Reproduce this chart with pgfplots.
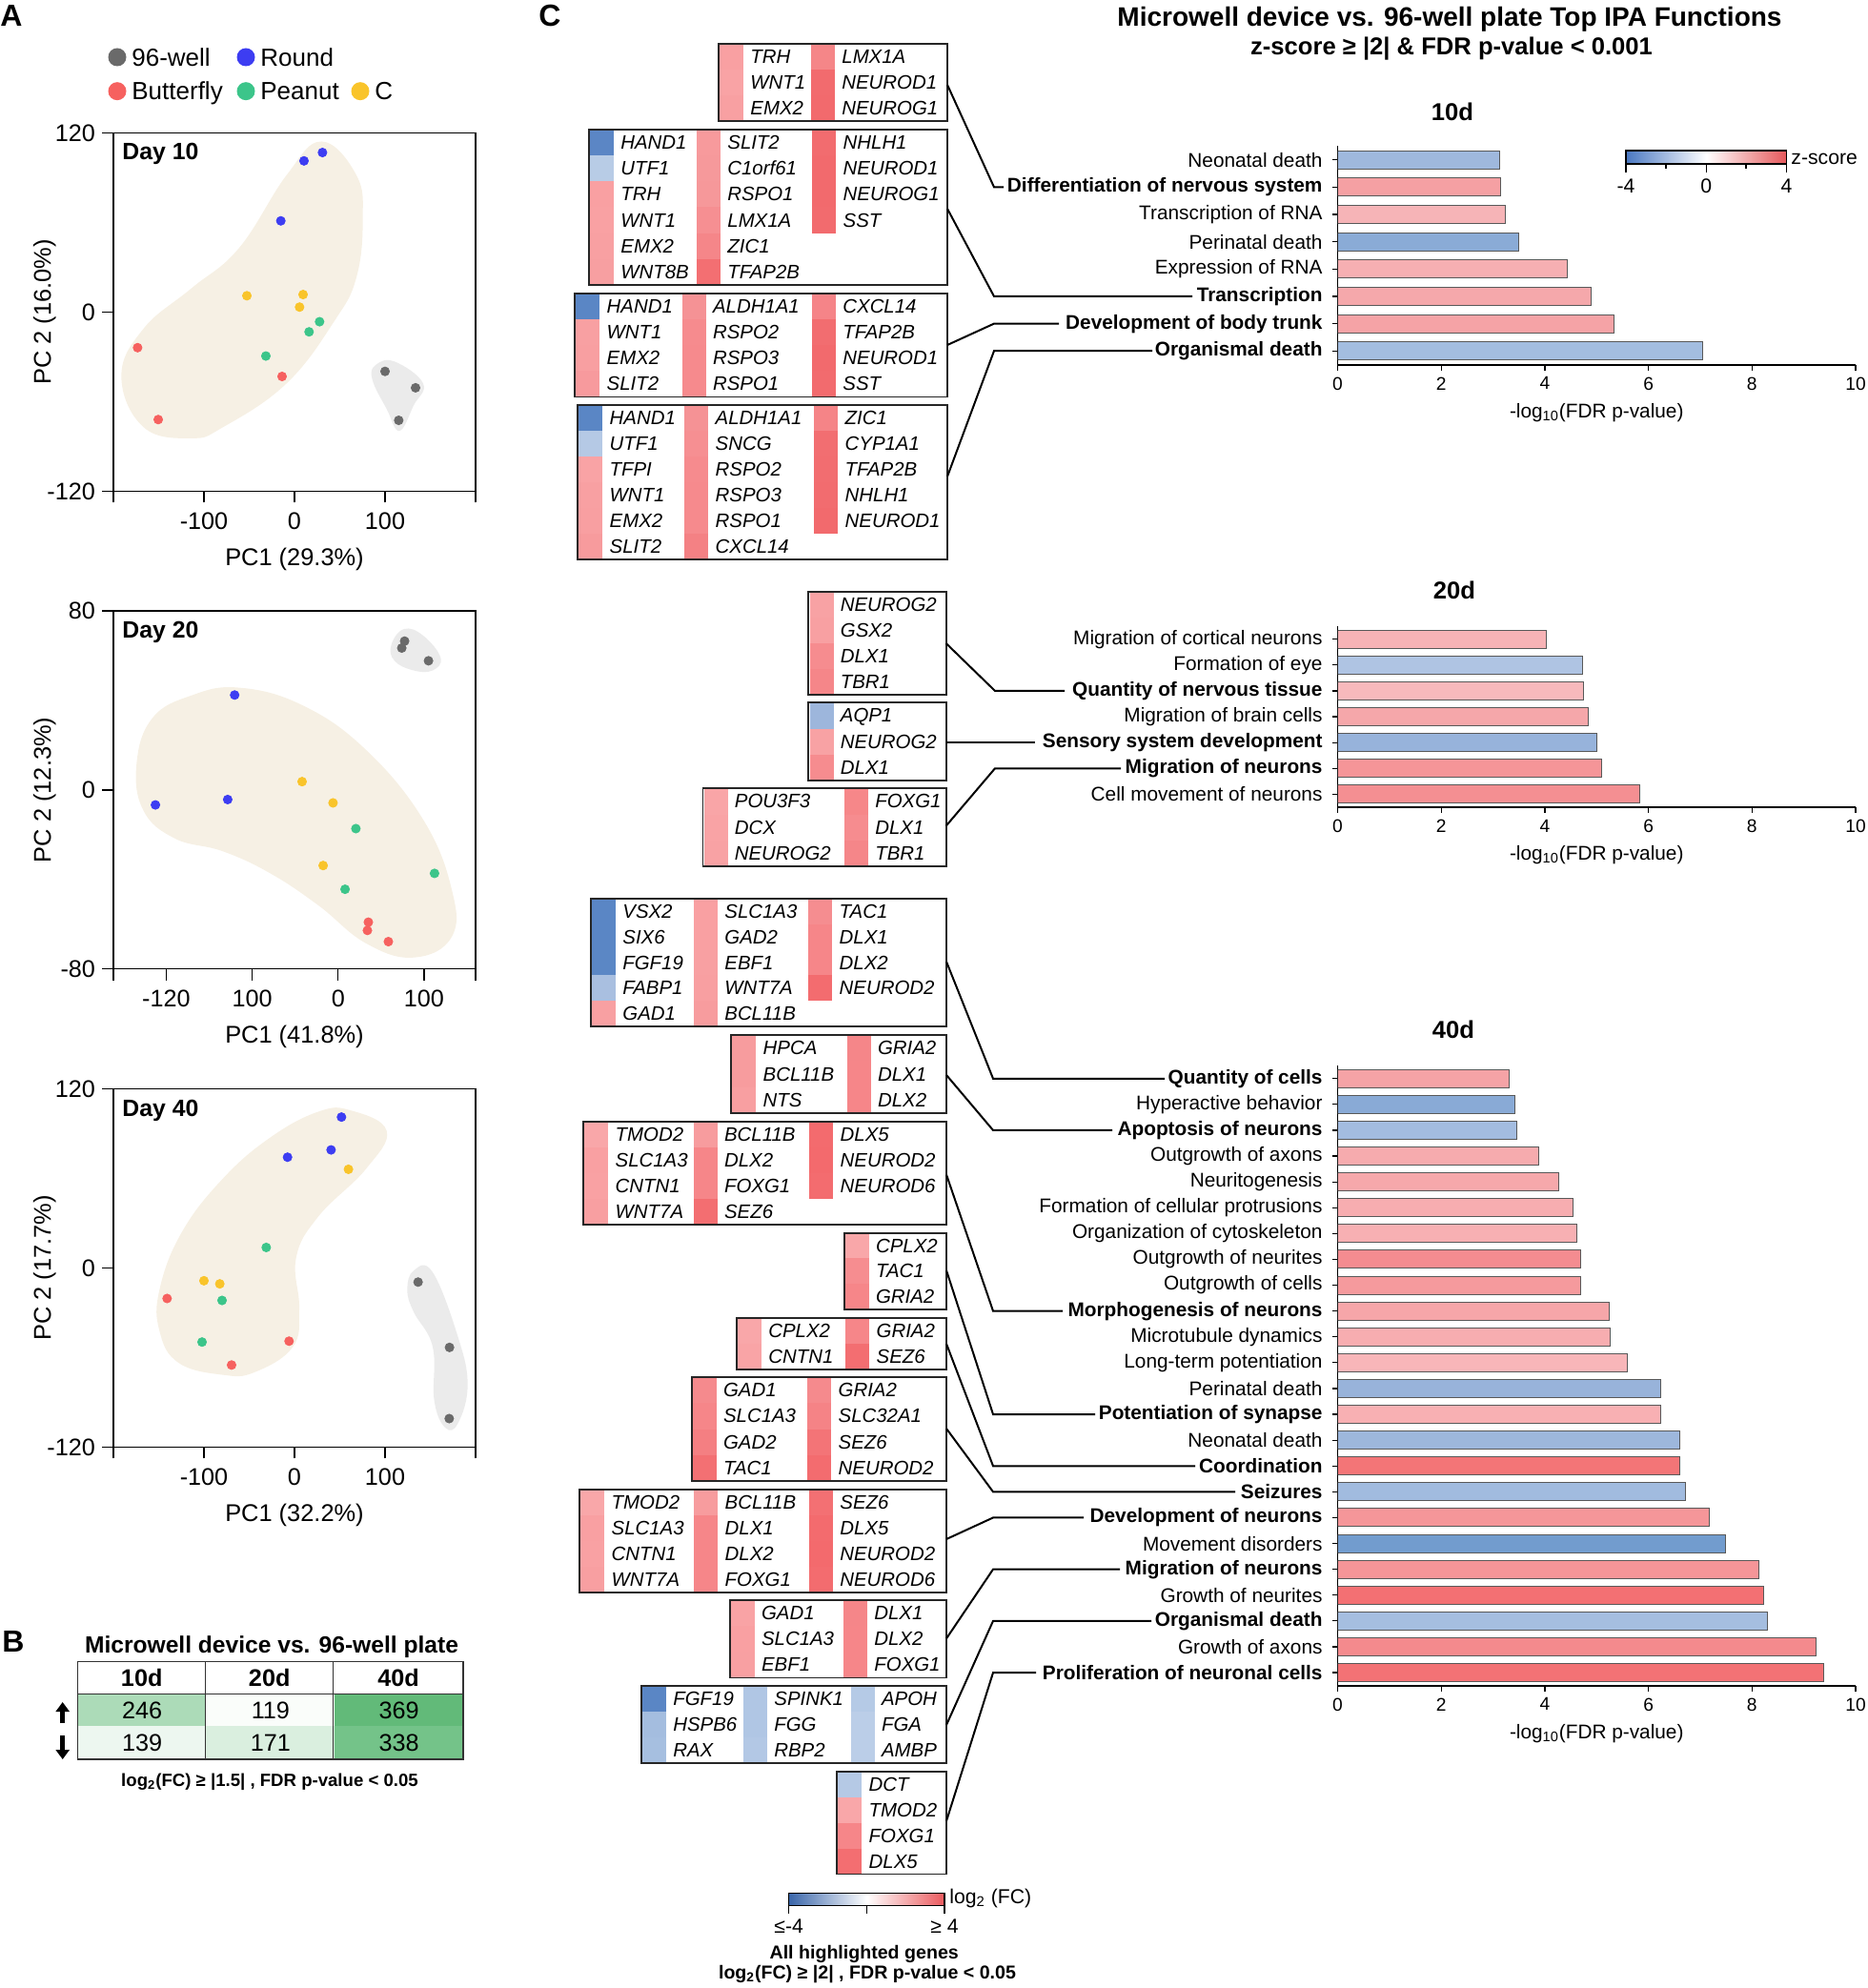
\documentclass[border=0pt]{standalone}
\usepackage{pgfplots}
\pgfplotsset{compat=1.18}
\usepackage{fontspec}
\setmainfont{Liberation Sans}
\usetikzlibrary{arrows.meta}

\newcommand\fs[1]{\fontsize{#1}{#1}\selectfont}
\newcommand\gene{\fs{10.2}\itshape}

% scatter colours
\definecolor{pgray}{HTML}{6A6A6A}
\definecolor{pblue}{HTML}{3D3DF2}
\definecolor{pred}{HTML}{F6615F}
\definecolor{pgreen}{HTML}{3CC58A}
\definecolor{pyellow}{HTML}{F9C42B}
\definecolor{blobb}{HTML}{F6F0E4}
\definecolor{blobg}{HTML}{EBEBEB}
% colourbars
\definecolor{zb}{HTML}{4A78C2}
\definecolor{zr}{HTML}{E5585B}
\definecolor{lb}{HTML}{3A66AA}
\definecolor{lr}{HTML}{EB5A5E}
% 10d bars
\definecolor{t1}{HTML}{9FB8DD}\definecolor{t2}{HTML}{F5A0A3}\definecolor{t3}{HTML}{F6B4B7}
\definecolor{t4}{HTML}{8AABD6}\definecolor{t5}{HTML}{F6AFB2}\definecolor{t6}{HTML}{F5A8AB}
\definecolor{t7}{HTML}{F5A3A6}\definecolor{t8}{HTML}{A3BDE0}
% 20d bars
\definecolor{w1}{HTML}{F7B3B6}\definecolor{w2}{HTML}{AFC4E3}\definecolor{w3}{HTML}{F7B9BC}
\definecolor{w4}{HTML}{F5A7AA}\definecolor{w5}{HTML}{97B3DB}\definecolor{w6}{HTML}{F59598}
\definecolor{w7}{HTML}{F48F92}
% 40d bars
\definecolor{f1}{HTML}{F5A3A6}\definecolor{f2}{HTML}{89AAD6}\definecolor{f3}{HTML}{A3BCE0}
\definecolor{f4}{HTML}{F6ABAE}\definecolor{f5}{HTML}{F6A8AB}\definecolor{f6}{HTML}{F7ADB0}
\definecolor{f7}{HTML}{F7B0B3}\definecolor{f8}{HTML}{F48C90}\definecolor{f9}{HTML}{F59A9D}
\definecolor{f10}{HTML}{F6A6A9}\definecolor{f11}{HTML}{F7ADB0}\definecolor{f12}{HTML}{F8B6B9}
\definecolor{f13}{HTML}{98B3DA}\definecolor{f14}{HTML}{F8B0B3}\definecolor{f15}{HTML}{9DB7DC}
\definecolor{f16}{HTML}{F37577}\definecolor{f17}{HTML}{A1BBDF}\definecolor{f18}{HTML}{F59699}
\definecolor{f19}{HTML}{729CCE}\definecolor{f20}{HTML}{F59598}\definecolor{f21}{HTML}{F37073}
\definecolor{f22}{HTML}{A5BEE0}\definecolor{f23}{HTML}{F48A8D}\definecolor{f24}{HTML}{F37275}

% gene boxes (scope units = pixels of the reference)
\newcommand\gset[5]{\gdef\bxa{#1}\gdef\bya{#2}\gdef\bxb{#3}\gdef\byb{#4}%
  \pgfmathsetmacro\tmpbh{(#4-#2)/#5}\global\let\bh\tmpbh}
\newcommand\gc[4]{\definecolor{gtmp}{HTML}{#3}%
  \fill[gtmp] (#1,{\bya+(#2-1)*\bh}) rectangle ({#1+25},{\bya+#2*\bh});
  \node[anchor=base west, inner sep=0pt, font=\gene] at ({#1+32},{\bya+(#2-0.5)*\bh+7}) {#4};}
\newcommand\gend{\draw[line width=0.9pt, black!85] (\bxa,\bya) rectangle (\bxb,\byb);}

\newcommand\hb[3]{\addplot[fill=#3, draw=black!65, line width=0.5pt] coordinates {(#1,#2)};}

\pgfplotsset{
  pca/.style={anchor=north west, scale only axis, width=190pt, height=187.85pt,
    tick align=outside, tick pos=left, major tick length=6pt,
    axis line style={line width=0.7pt}, every tick/.style={black, line width=0.7pt},
    /pgf/number format/assume math mode=true,
    tick label style={font=\fs{12.6}}, label style={font=\fs{12.7}},
    xticklabel style={yshift=-1.5pt},
    xlabel style={at={(axis description cs:0.5,-0.19)}, anchor=center},
    ylabel style={at={(axis description cs:-0.19,0.5)}, anchor=center}},
  pts/.style={only marks, mark=*, mark size=2.3pt},
  blob/.style={draw=none, smooth cycle, tension=0.7},
  ipa/.style={anchor=north west, scale only axis, width=271.75pt,
    xbar, bar width=9.5pt, bar shift=0pt, xmin=0, xmax=10, ymin=0.5, y dir=reverse,
    xtick={0,2,...,10}, axis x line*=bottom, axis y line*=left, axis line style={-},
    x axis line style={line width=1.1pt}, y axis line style={line width=0.7pt},
    tick align=outside, major tick length=3pt, every tick/.style={black, line width=0.6pt},
    /pgf/number format/assume math mode=true,
    yticklabel style={font=\fs{10.4}, inner sep=0pt, xshift=-4.8pt},
    xticklabel style={font=\fs{9.6}},
    xlabel={-log\textsubscript{10}(FDR p-value)},
    xlabel style={font=\fs{10.4}, at={(axis description cs:0.5,0)}, anchor=base, yshift=-27.8pt}},
}

\begin{document}
\begin{tikzpicture}
% ---------------- Panel A ----------------
\begin{axis}[pca, at={(59.5pt,-69.85pt)},
  xmin=-200, xmax=200, ymin=-120, ymax=120,
  xtick={-200,-100,0,100,200}, xticklabels={,-100,0,100,},
  ytick={-120,0,120}, yticklabels={-120,0,120},
  xlabel={PC1 (29.3\%)}, ylabel={PC 2 (16.0\%)}]
\addplot[blob, fill=blobb] coordinates {(29.8,114.4) (68.4,91.8) (75.4,62.5) (68.4,23.3) (43.9,-6.1) (-8.8,-47.8) (-78.9,-77.1) (-114,-84.5) (-166.7,-77.1) (-191.2,-42.9) (-166.7,-11) (-114,15.9) (-61.4,42.9) (-8.8,91.8)};
\addplot[blob, fill=blobg] coordinates {(89.5,-35.5) (110.5,-33.1) (142.1,-47.8) (131.6,-62.5) (115.8,-79.6) (101.8,-64.9) (86,-45.3)};
\addplot[pts, mark options={fill=pblue, draw=pblue}] coordinates {(30.9,107) (10.5,101.4) (-15.1,61.2)};
\addplot[pts, mark options={fill=pyellow, draw=pyellow}] coordinates {(-52.6,11) (9.5,11.8) (5.6,3.4)};
\addplot[pts, mark options={fill=pgreen, draw=pgreen}] coordinates {(27.7,-6.4) (16.1,-13.2) (-31.6,-29.4)};
\addplot[pts, mark options={fill=pred, draw=pred}] coordinates {(-173.3,-23.8) (-13.7,-43.1) (-150.5,-72)};
\addplot[pts, mark options={fill=pgray, draw=pgray}] coordinates {(100,-39.7) (133.7,-50.7) (115.1,-72.5)};
\end{axis}

\begin{axis}[pca, at={(59.5pt,-320.5pt)},
  xmin=-261.5, xmax=160, ymin=-80, ymax=80,
  xtick={-261.5,-200,-100,0,100,160}, xticklabels={,-120,100,0,100,},
  ytick={-80,0,80}, yticklabels={-80,0,80},
  xlabel={PC1 (41.8\%)}, ylabel={PC 2 (12.3\%)}]
\addplot[blob, fill=blobb] coordinates {(-115.9,45.7) (-41.9,37.9) (32.2,18) (98.9,-13.2) (132.2,-44.4) (132.2,-65.7) (87.8,-74.9) (32.2,-68.5) (-23.3,-51.5) (-78.9,-37.3) (-134.4,-27.4) (-190,-21.7) (-227,-8.9) (-234.4,12.3) (-215.9,32.2) (-171.5,42.1)};
\addplot[blob, fill=blobg] coordinates {(61.9,64.8) (76.7,71.9) (98.9,69) (119.3,59.1) (110,53.4) (87.8,53.4) (65.6,57.7)};
\addplot[pts, mark options={fill=pgray, draw=pgray}] coordinates {(77.4,66.5) (74.1,63.4) (105.2,57.7)};
\addplot[pts, mark options={fill=pblue, draw=pblue}] coordinates {(-120.4,42.4) (-212.6,-6.7) (-128.5,-4.3)};
\addplot[pts, mark options={fill=pyellow, draw=pyellow}] coordinates {(-41.9,3.7) (-5.9,-5.8) (-17.4,-33.8)};
\addplot[pts, mark options={fill=pgreen, draw=pgreen}] coordinates {(20.7,-17.3) (112.2,-37.3) (8.1,-44.4)};
\addplot[pts, mark options={fill=pred, draw=pred}] coordinates {(35.2,-59.1) (34.1,-62.8) (58.5,-67.8)};
\end{axis}

\begin{axis}[pca, at={(59.5pt,-571.35pt)},
  xmin=-200, xmax=200, ymin=-120, ymax=120,
  xtick={-200,-100,0,100,200}, xticklabels={,-100,0,100,},
  ytick={-120,0,120}, yticklabels={-120,0,120},
  xlabel={PC1 (32.2\%)}, ylabel={PC 2 (17.7\%)}]
\addplot[blob, fill=blobb] coordinates {(61.4,105.8) (101.8,92) (78.9,66.4) (26.3,34.5) (1.8,6.8) (5.3,-27.3) (-1.8,-52.8) (-43.9,-69.8) (-78.9,-71.6) (-128.1,-63.5) (-149.1,-42.2) (-149.1,-14.5) (-124.6,23.9) (-78.9,60.1) (-26.3,87.7) (26.3,104.8)};
\addplot[blob, fill=blobg] coordinates {(131.6,-1.7) (152.6,-2.8) (180.7,-46.4) (191.2,-78.4) (180.7,-103.9) (166.7,-107.1) (154.4,-89) (152.6,-52.8) (131.6,-29.4) (124.6,-14.5)};
\addplot[pts, mark options={fill=pblue, draw=pblue}] coordinates {(51.9,101.2) (40.4,79.2) (-7.7,74.3)};
\addplot[pts, mark options={fill=pyellow, draw=pyellow}] coordinates {(59.6,66.2) (-100,-8.5) (-82.5,-10.6)};
\addplot[pts, mark options={fill=pgreen, draw=pgreen}] coordinates {(-31.2,13.8) (-80,-21.7) (-102.1,-49.6)};
\addplot[pts, mark options={fill=pred, draw=pred}] coordinates {(-140.7,-20.4) (-6,-49) (-69.5,-65)};
\addplot[pts, mark options={fill=pgray, draw=pgray}] coordinates {(136.5,-9.4) (171.2,-53.2) (170.9,-100.9)};
\end{axis}

% ---------------- Panel B ----------------
\begin{axis}[anchor=north west, at={(40.85pt,-888.85pt)}, scale only axis,
  width=202.15pt, height=34.15pt, hide axis,
  xmin=-0.5, xmax=2.5, ymin=-0.5, ymax=1.5, y dir=reverse,
  /pgf/number format/assume math mode=true,
  colormap={grn}{rgb255(0cm)=(255,255,255) rgb255(1cm)=(92,184,116)},
  point meta min=110, point meta max=380]
\addplot[matrix plot*, mesh/cols=3, point meta=explicit,
  nodes near coords, nodes near coords align=center,
  every node near coord/.append style={font=\fs{12.6}, anchor=center, text=black}]
  table[meta=c] {
x y c
0 0 246
1 0 119
2 0 369
0 1 139
1 1 171
2 1 338
};
\end{axis}

% ---------------- Panel C bar charts ----------------
\begin{axis}[ipa, at={(701.75pt,-76.7pt)}, height=114.6pt, ymax=8.5, ytick={1,...,8},
  yticklabels={Neonatal death,\textbf{Differentiation of nervous system},Transcription of RNA,Perinatal death,Expression of RNA,\textbf{Transcription},\textbf{Development of body trunk},\textbf{Organismal death}}]
\hb{3.12}{1}{t1}\hb{3.15}{2}{t2}\hb{3.23}{3}{t3}\hb{3.50}{4}{t4}
\hb{4.44}{5}{t5}\hb{4.90}{6}{t6}\hb{5.33}{7}{t7}\hb{7.04}{8}{t8}
\end{axis}

\begin{axis}[ipa, at={(701.75pt,-328.6pt)}, height=94.85pt, ymax=7.5, ytick={1,...,7},
  yticklabels={Migration of cortical neurons,Formation of eye,\textbf{Quantity of nervous tissue},Migration of brain cells,\textbf{Sensory system development},\textbf{Migration of neurons},Cell movement of neurons}]
\hb{4.03}{1}{w1}\hb{4.72}{2}{w2}\hb{4.75}{3}{w3}\hb{4.84}{4}{w4}
\hb{5.00}{5}{w5}\hb{5.10}{6}{w6}\hb{5.84}{7}{w7}
\end{axis}

\begin{axis}[ipa, at={(701.75pt,-559.1pt)}, height=325.2pt, ymax=24.5, ytick={1,...,24},
  yticklabels={\textbf{Quantity of cells},Hyperactive behavior,\textbf{Apoptosis of neurons},Outgrowth of axons,Neuritogenesis,Formation of cellular protrusions,Organization of cytoskeleton,Outgrowth of neurites,Outgrowth of cells,\textbf{Morphogenesis of neurons},Microtubule dynamics,Long-term potentiation,Perinatal death,\textbf{Potentiation of synapse},Neonatal death,\textbf{Coordination},\textbf{Seizures},\textbf{Development of neurons},Movement disorders,\textbf{Migration of neurons},Growth of neurites,\textbf{Organismal death},Growth of axons,\textbf{Proliferation of neuronal cells}}]
\hb{3.31}{1}{f1}\hb{3.43}{2}{f2}\hb{3.46}{3}{f3}\hb{3.89}{4}{f4}
\hb{4.27}{5}{f5}\hb{4.54}{6}{f6}\hb{4.62}{7}{f7}\hb{4.69}{8}{f8}
\hb{4.69}{9}{f9}\hb{5.24}{10}{f10}\hb{5.27}{11}{f11}\hb{5.59}{12}{f12}
\hb{6.24}{13}{f13}\hb{6.24}{14}{f14}\hb{6.60}{15}{f15}\hb{6.60}{16}{f16}
\hb{6.71}{17}{f17}\hb{7.18}{18}{f18}\hb{7.48}{19}{f19}\hb{8.14}{20}{f20}
\hb{8.22}{21}{f21}\hb{8.30}{22}{f22}\hb{9.23}{23}{f23}\hb{9.38}{24}{f24}
\end{axis}

% ---------------- annotations ----------------
\begin{scope}[x=0.5pt,y=-0.5pt]
% panel letters
\node[anchor=north west, inner sep=0pt, font=\fs{16}\bfseries] at (0,5) {A};
\node[anchor=north west, inner sep=0pt, font=\fs{16}\bfseries] at (2,1711) {B};
\node[anchor=north west, inner sep=0pt, font=\fs{16}\bfseries] at (565,5) {C};

% legend A
\foreach \cx/\cy/\cc/\lab in {123/60/pgray/96-well, 258/60/pblue/Round, 123/95.7/pred/Butterfly, 258/95.7/pgreen/Peanut, 378/95.7/pyellow/C}{
  \fill[\cc] (\cx,\cy) circle (9.5);
  \node[anchor=base west, inner sep=0pt, font=\fs{13}] at (\cx+15,\cy+9.3) {\lab};
}
\node[anchor=base west, inner sep=0pt, font=\fs{12.4}\bfseries] at (128,167.5) {Day 10};
\node[anchor=base west, inner sep=0pt, font=\fs{12.4}\bfseries] at (128,669.5) {Day 20};
\node[anchor=base west, inner sep=0pt, font=\fs{12.4}\bfseries] at (128,1171) {Day 40};

% panel B table frame
\node[font=\fs{12.3}\bfseries] at (285,1728) {Microwell device vs. 96-well plate};
\foreach \hx/\hd in {148.7/10d, 282.7/20d, 418/40d}{
  \node[font=\fs{12.6}\bfseries] at (\hx,1760.5) {\hd};}
\draw[line width=0.7pt, black!80] (81.7,1743.3) rectangle (486,1846);
\draw[line width=0.7pt, black!80] (81.7,1777.7) -- (486,1777.7);
\draw[line width=0.7pt, black!80] (215.7,1743.3) -- (215.7,1846);
\draw[line width=0.7pt, black!80] (349.7,1743.3) -- (349.7,1846);
\draw[line width=2.4pt, -{Triangle[length=5pt,width=7pt]}] (65.7,1808) -- (65.7,1786);
\draw[line width=2.4pt, -{Triangle[length=5pt,width=7pt]}] (65.7,1821) -- (65.7,1846);
\node[font=\fs{9.3}\bfseries] at (283,1870) {log\textsubscript{2}(FC) ≥ |1.5| , FDR p-value < 0.05};

% titles C
\node[font=\fs{14}\bfseries] at (1521,20) {Microwell device vs. 96-well plate Top IPA Functions};
\node[font=\fs{12.8}\bfseries] at (1523,51) {z-score ≥ |2| \& FDR p-value < 0.001};
\node[font=\fs{12.8}\bfseries] at (1524,117) {10d};
\node[font=\fs{12.8}\bfseries] at (1526,619) {20d};
\node[font=\fs{12.8}\bfseries] at (1525,1080) {40d};

% z-score colourbar
\shade[left color=zb, right color=zr, middle color=white] (1706,158) rectangle (1874.6,172);
\draw[line width=0.6pt] (1706,158) rectangle (1874.6,172);
\foreach \tx in {1706,1790.3,1874.6}{\draw[line width=0.6pt] (\tx,172) -- (\tx,181);}
\foreach \tx in {1748,1832}{\draw[line width=0.6pt] (\tx,172) -- (\tx,177);}
\node[font=\fs{10.6}] at (1706,195) {-4};
\node[font=\fs{10.6}] at (1790.3,195) {0};
\node[font=\fs{10.6}] at (1874.6,195) {4};
\node[anchor=west, inner sep=0pt, font=\fs{10.6}] at (1879,167) {z-score};

% log2FC colourbar
\shade[left color=lb, right color=lr, middle color=white] (827.7,1986.7) rectangle (991,1999.6);
\draw[line width=0.6pt] (827.7,1986.7) rectangle (991,1999.6);
\foreach \tx in {827.7,909.3,991}{\draw[line width=0.6pt] (\tx,1999.6) -- (\tx,2008);}
\node[font=\fs{10.6}] at (827.7,2021.5) {≤-4};
\node[font=\fs{10.6}] at (991,2021.5) {≥ 4};
\node[anchor=west, inner sep=0pt, font=\fs{10.6}] at (996,1992) {log\textsubscript{2} (FC)};
\node[font=\fs{9.8}\bfseries] at (906.7,2050) {All highlighted genes};
\node[font=\fs{9.8}\bfseries] at (910,2072) {log\textsubscript{2}(FC) ≥ |2| , FDR p-value < 0.05};

% ---- 10d gene boxes ----
\gset{754}{46}{994}{127}{3}
\gc{755}{1}{F9A0A2}{TRH}\gc{755}{2}{F9A3A5}{WNT1}\gc{755}{3}{F8A0A2}{EMX2}
\gc{851}{1}{F58688}{LMX1A}\gc{851}{2}{F26B6E}{NEUROD1}\gc{851}{3}{F26A6D}{NEUROG1}
\gend
\gset{617.7}{136}{994}{299}{6}
\gc{619}{1}{5B86C5}{HAND1}\gc{619}{2}{B8CCE6}{UTF1}\gc{619}{3}{F9A0A2}{TRH}\gc{619}{4}{F9A1A3}{WNT1}\gc{619}{5}{F8A0A2}{EMX2}\gc{619}{6}{F79FA1}{WNT8B}
\gc{731}{1}{F79A9C}{SLIT2}\gc{731}{2}{F6999B}{C1orf61}\gc{731}{3}{F6989A}{RSPO1}\gc{731}{4}{F68F92}{LMX1A}\gc{731}{5}{F58689}{ZIC1}\gc{731}{6}{F36F72}{TFAP2B}
\gc{852.3}{1}{F26C6F}{NHLH1}\gc{852.3}{2}{F26A6D}{NEUROD1}\gc{852.3}{3}{F26A6D}{NEUROG1}\gc{852.3}{4}{F26B6E}{SST}
\gend
\gset{603.3}{307.9}{994}{416.4}{4}
\gc{604.3}{1}{5A86C5}{HAND1}\gc{604.3}{2}{F8A0A2}{WNT1}\gc{604.3}{3}{F89FA1}{EMX2}\gc{604.3}{4}{F79A9D}{SLIT2}
\gc{715.7}{1}{F59295}{ALDH1A1}\gc{715.7}{2}{F68B8E}{RSPO2}\gc{715.7}{3}{F68A8D}{RSPO3}\gc{715.7}{4}{F68A8D}{RSPO1}
\gc{852}{1}{F58488}{CXCL14}\gc{852}{2}{F26D70}{TFAP2B}\gc{852}{3}{F26A6D}{NEUROD1}\gc{852}{4}{F26B6E}{SST}
\gend
\gset{606}{424.6}{994}{587}{6}
\gc{607.3}{1}{5A86C5}{HAND1}\gc{607.3}{2}{B5C9E5}{UTF1}\gc{607.3}{3}{F9A3A5}{TFPI}\gc{607.3}{4}{F8A0A2}{WNT1}\gc{607.3}{5}{F89FA1}{EMX2}\gc{607.3}{6}{F79B9D}{SLIT2}
\gc{718.3}{1}{F59295}{ALDH1A1}\gc{718.3}{2}{F68F92}{SNCG}\gc{718.3}{3}{F68B8E}{RSPO2}\gc{718.3}{4}{F68A8D}{RSPO3}\gc{718.3}{5}{F68A8D}{RSPO1}\gc{718.3}{6}{F48184}{CXCL14}
\gc{854.3}{1}{F58487}{ZIC1}\gc{854.3}{2}{F26E71}{CYP1A1}\gc{854.3}{3}{F26D70}{TFAP2B}\gc{854.3}{4}{F26C6F}{NHLH1}\gc{854.3}{5}{F26A6D}{NEUROD1}
\gend
\draw[line width=1pt] (994,89) -- (1043,196.4) -- (1053,196.4);
\draw[line width=1pt] (994,219) -- (1043,311) -- (1251,311);
\draw[line width=1pt] (994,362) -- (1043,339.6) -- (1111,339.6);
\draw[line width=1pt] (994,500) -- (1043,368.2) -- (1209,368.2);

% ---- 20d gene boxes ----
\gset{848}{620.7}{992.6}{729.3}{4}
\gc{849.5}{1}{F8A2A4}{NEUROG2}\gc{849.5}{2}{F8A0A2}{GSX2}\gc{849.5}{3}{F68C8F}{DLX1}\gc{849.5}{4}{F58689}{TBR1}
\gend
\gset{848}{737.3}{992.6}{819.3}{3}
\gc{849.5}{1}{9DB6DC}{AQP1}\gc{849.5}{2}{F8A2A4}{NEUROG2}\gc{849.5}{3}{F68C8F}{DLX1}
\gend
\gset{737.4}{827.3}{992.6}{909.3}{3}
\gc{738.5}{1}{F9A5A7}{POU3F3}\gc{738.5}{2}{F9A3A5}{DCX}\gc{738.5}{3}{F8A2A4}{NEUROG2}
\gc{886}{1}{F68789}{FOXG1}\gc{886}{2}{F68C8F}{DLX1}\gc{886}{3}{F58689}{TBR1}
\gend
\draw[line width=1pt] (992.6,675) -- (1044,724.95) -- (1117,724.95);
\draw[line width=1pt] (992.6,779.15) -- (1086,779.15);
\draw[line width=1pt] (992.6,866.7) -- (1044,806.25) -- (1176,806.25);

% ---- 40d gene boxes ----
\gset{620}{943}{993}{1077}{5}
\gc{621}{1}{5A86C5}{VSX2}\gc{621}{2}{5A86C5}{SIX6}\gc{621}{3}{5B87C5}{FGF19}\gc{621}{4}{A9BFE0}{FABP1}\gc{621}{5}{F8A0A2}{GAD1}
\gc{728}{1}{F9A0A2}{SLC1A3}\gc{728}{2}{F9A0A2}{GAD2}\gc{728}{3}{F8A0A2}{EBF1}\gc{728}{4}{F89FA1}{WNT7A}\gc{728}{5}{F79C9E}{BCL11B}
\gc{848.3}{1}{F58D90}{TAC1}\gc{848.3}{2}{F68689}{DLX1}\gc{848.3}{3}{F68689}{DLX2}\gc{848.3}{4}{F36C6F}{NEUROD2}
\gend
\gset{767.3}{1086.2}{993}{1168}{3}
\gc{768.3}{1}{F79C9E}{HPCA}\gc{768.3}{2}{F79C9E}{BCL11B}\gc{768.3}{3}{F89FA1}{NTS}
\gc{888.7}{1}{F58689}{GRIA2}\gc{888.7}{2}{F68689}{DLX1}\gc{888.7}{3}{F68689}{DLX2}
\gend
\gset{612}{1177}{993}{1285}{4}
\gc{613.3}{1}{F9A7A9}{TMOD2}\gc{613.3}{2}{F9A0A2}{SLC1A3}\gc{613.3}{3}{F9A1A3}{CNTN1}\gc{613.3}{4}{F89FA1}{WNT7A}
\gc{727.7}{1}{F79C9E}{BCL11B}\gc{727.7}{2}{F68689}{DLX2}\gc{727.7}{3}{F68689}{FOXG1}\gc{727.7}{4}{F36E71}{SEZ6}
\gc{849.3}{1}{F36B6E}{DLX5}\gc{849.3}{2}{F36A6D}{NEUROD2}\gc{849.3}{3}{F36C6F}{NEUROD6}
\gend
\gset{885.7}{1293.8}{993}{1373.7}{3}
\gc{886.7}{1}{F9A7A9}{CPLX2}\gc{886.7}{2}{F68D90}{TAC1}\gc{886.7}{3}{F68689}{GRIA2}
\gend
\gset{772.7}{1382.7}{993}{1437}{2}
\gc{774}{1}{F9A7A9}{CPLX2}\gc{774}{2}{F9A4A6}{CNTN1}
\gc{887.3}{1}{F68689}{GRIA2}\gc{887.3}{2}{F36E71}{SEZ6}
\gend
\gset{726}{1445}{993}{1554}{4}
\gc{726.7}{1}{F58A8D}{GAD1}\gc{726.7}{2}{F68689}{SLC1A3}\gc{726.7}{3}{F47F82}{GAD2}\gc{726.7}{4}{F37073}{TAC1}
\gc{847.3}{1}{F58A8D}{GRIA2}\gc{847.3}{2}{F58386}{SLC32A1}\gc{847.3}{3}{F37477}{SEZ6}\gc{847.3}{4}{F36C6F}{NEUROD2}
\gend
\gset{608.3}{1562.6}{993}{1670.6}{4}
\gc{609.3}{1}{F9A7A9}{TMOD2}\gc{609.3}{2}{F9A0A2}{SLC1A3}\gc{609.3}{3}{F9A1A3}{CNTN1}\gc{609.3}{4}{F89FA1}{WNT7A}
\gc{728.3}{1}{F79C9E}{BCL11B}\gc{728.3}{2}{F68689}{DLX1}\gc{728.3}{3}{F68689}{DLX2}\gc{728.3}{4}{F68689}{FOXG1}
\gc{849}{1}{F37073}{SEZ6}\gc{849}{2}{F36B6E}{DLX5}\gc{849}{3}{F36A6D}{NEUROD2}\gc{849}{4}{F36C6F}{NEUROD6}
\gend
\gset{765.7}{1679.3}{993}{1760.4}{3}
\gc{766.7}{1}{F9A3A5}{GAD1}\gc{766.7}{2}{F9A0A2}{SLC1A3}\gc{766.7}{3}{F8A0A2}{EBF1}
\gc{885}{1}{F58689}{DLX1}\gc{885}{2}{F68689}{DLX2}\gc{885}{3}{F68689}{FOXG1}
\gend
\gset{672.7}{1769}{993}{1850}{3}
\gc{674}{1}{5A86C5}{FGF19}\gc{674}{2}{A4BDDF}{HSPB6}\gc{674}{3}{A6BFE0}{RAX}
\gc{780}{1}{B0C6E4}{SPINK1}\gc{780}{2}{B0C6E4}{FGG}\gc{780}{3}{B3C8E5}{RBP2}
\gc{892.7}{1}{B5CAE6}{APOH}\gc{892.7}{2}{BBCEE8}{FGA}\gc{892.7}{3}{BBCEE8}{AMBP}
\gend
\gset{878.3}{1858.6}{993}{1966.5}{4}
\gc{879.3}{1}{B5C9E5}{DCT}\gc{879.3}{2}{F9A7A9}{TMOD2}\gc{879.3}{3}{F68689}{FOXG1}\gc{879.3}{4}{F36E71}{DLX5}
\gend
\draw[line width=1pt] (993,1009) -- (1042,1131.75) -- (1222,1131.75);
\draw[line width=1pt] (993,1128) -- (1042,1185.95) -- (1167,1185.95);
\draw[line width=1pt] (993,1232.5) -- (1042,1375.65) -- (1115,1375.65);
\draw[line width=1pt] (993,1333) -- (1042,1484.05) -- (1149,1484.05);
\draw[line width=1pt] (993,1410) -- (1042,1538.25) -- (1254,1538.25);
\draw[line width=1pt] (993,1499) -- (1042,1565.35) -- (1296,1565.35);
\draw[line width=1pt] (993,1615) -- (1042,1592.45) -- (1137,1592.45);
\draw[line width=1pt] (993,1719.3) -- (1042,1646.65) -- (1175,1646.65);
\draw[line width=1pt] (993,1810) -- (1042,1700.85) -- (1208,1700.85);
\draw[line width=1pt] (993,1910.8) -- (1042,1755.05) -- (1087,1755.05);
\end{scope}
% fix the page to the reference's extent
\pgfresetboundingbox
\path[use as bounding box] (0pt,0pt) rectangle (979.5pt,-1043pt);
\end{tikzpicture}
\end{document}
